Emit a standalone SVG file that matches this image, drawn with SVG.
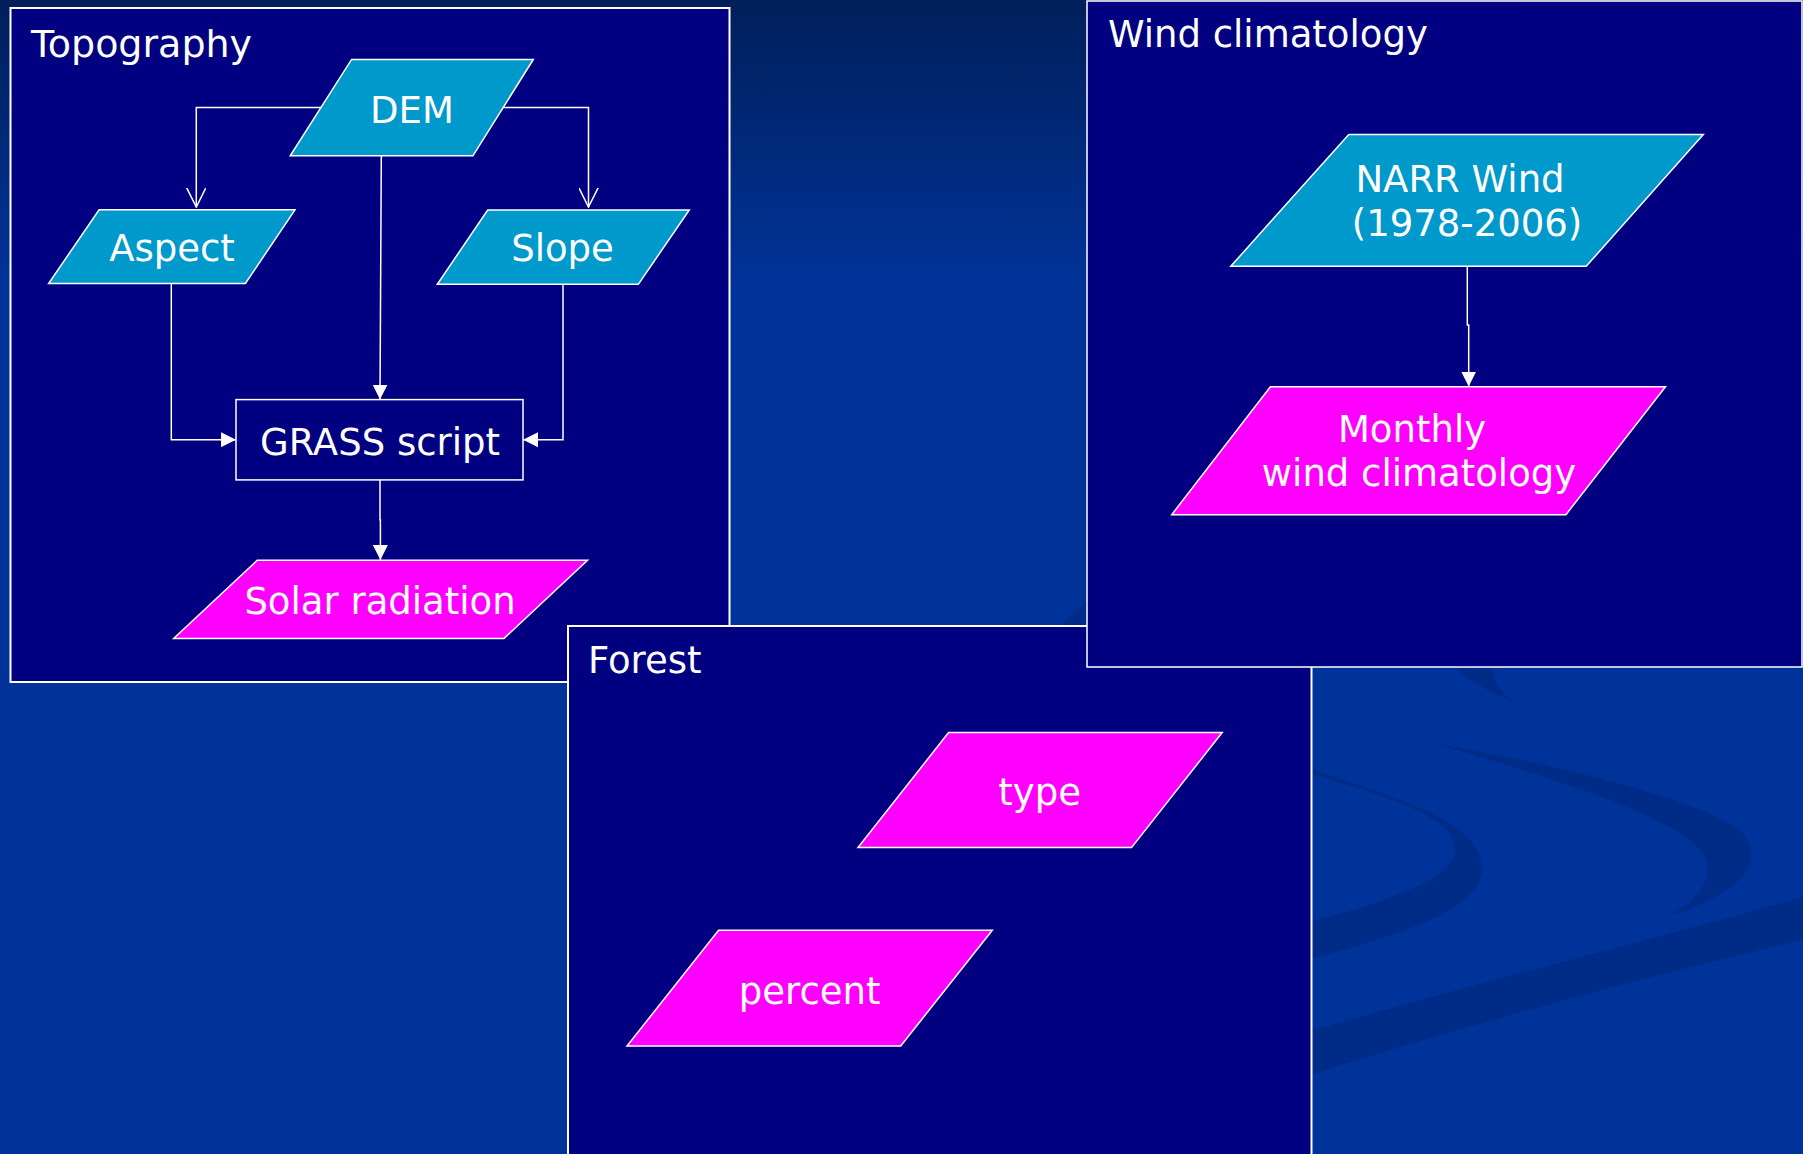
<svg xmlns="http://www.w3.org/2000/svg" width="1803" height="1154" viewBox="0 0 1803 1154">
<defs>
<linearGradient id="bg" x1="0" y1="0" x2="0" y2="1154" gradientUnits="userSpaceOnUse">
<stop offset="0" stop-color="#001f5a"/>
<stop offset="0.25" stop-color="#003399"/>
<stop offset="1" stop-color="#003399"/>
</linearGradient>
<marker id="fill" viewBox="0 0 10 10" markerUnits="userSpaceOnUse" markerWidth="15" markerHeight="15" refX="10" refY="5" orient="auto">
<path d="M0,0 L10,5 L0,10 Z" fill="#ffffff"/>
</marker>
<marker id="open" viewBox="0 0 10 10" markerUnits="userSpaceOnUse" markerWidth="20" markerHeight="20" refX="9.6" refY="5" orient="auto">
<path d="M0,0.2 L9.6,5 L0,9.8" fill="none" stroke="#ffffff" stroke-width="0.75"/>
</marker>
<style>
.box{fill:#000080;stroke:#ffffff;stroke-width:2}
.cy{fill:#0099cc;stroke:#ffffff;stroke-width:1.5}
.mg{fill:#ff00ff;stroke:#ffffff;stroke-width:1.5}
.sw{fill:#002c87}
.t{font-family:"DejaVu Sans",Verdana,"Liberation Sans",sans-serif;font-size:37px;fill:#ffffff}
.c{text-anchor:middle}
.ln{fill:none;stroke:#ffffff;stroke-width:1.5}
</style>
</defs>
<rect x="0" y="0" width="1803" height="1154" fill="url(#bg)"/>
<g id="background-swooshes">
<path class="sw" d="M1300,1034 C1450,990 1650,940 1803,897 L1803,940 C1650,975 1450,1030 1300,1078 Z"/>
<path class="sw" d="M1300,765 C1400,800 1480,820 1482,867 C1484,910 1400,935 1300,962 L1300,925 C1390,900 1455,880 1455,848 C1455,815 1380,795 1300,770 Z"/>
<path class="sw" d="M1433,743 C1560,765 1700,800 1740,830 C1770,860 1740,895 1667,917 C1710,895 1715,865 1700,850 C1670,815 1560,780 1433,743 Z"/>
<path class="sw" d="M1455,668 L1492,668 C1495,688 1505,698 1522,704 C1495,695 1475,685 1455,668 Z"/>
<path class="sw" d="M1060,626 L1088,600 L1088,626 Z"/>
</g>
<g id="topography">
<rect class="box" x="10.5" y="8" width="719" height="674"/>
<text class="t" x="31" y="57" style="font-size:38px">Topography</text>
</g>
<g id="forest">
<rect class="box" x="568" y="626" width="743.5" height="540"/>
<text class="t" x="588" y="673">Forest</text>
</g>
<g id="wind-climatology">
<rect class="box" x="1087" y="1" width="715" height="666" style="stroke-width:1.5"/>
<text class="t" x="1108" y="47">Wind climatology</text>
</g>
<g id="connectors">
<path class="ln" d="M321,107.6 H196.3 V207" marker-end="url(#open)"/>
<path class="ln" d="M503.5,107.6 H588.5 V207" marker-end="url(#open)"/>
<path class="ln" d="M381.3,156 L380,399.6" marker-end="url(#fill)"/>
<path class="ln" d="M171.3,283.5 V439.7 H236" marker-end="url(#fill)"/>
<path class="ln" d="M563,284 V439.7 H523" marker-end="url(#fill)"/>
<path class="ln" d="M380,480 V520 H380.4 V560" marker-end="url(#fill)"/>
<path class="ln" d="M1467.3,266 V325 H1468.7 V386.5" marker-end="url(#fill)"/>
</g>
<g id="dem">
<polygon class="cy" points="351.6,59.4 533.3,59.4 472.9,155.8 290.2,155.8"/>
<text class="t c" x="412" y="123">DEM</text>
</g>
<g id="aspect">
<polygon class="cy" points="99.1,209.8 295,209.8 245.4,283.5 48.6,283.5"/>
<text class="t c" x="172" y="261">Aspect</text>
</g>
<g id="slope">
<polygon class="cy" points="487.7,210 689.3,210 638.3,284.3 437.3,284.3"/>
<text class="t c" x="562.5" y="261">Slope</text>
</g>
<g id="grass-script">
<rect x="236" y="399.6" width="287" height="80.3" fill="none" stroke="#ffffff" stroke-width="1.5"/>
<text class="t c" x="380" y="454.5">GRASS script</text>
</g>
<g id="solar-radiation">
<polygon class="mg" points="257.2,560.3 587.5,560.3 504,638.4 173.7,638.4"/>
<text class="t c" x="380" y="614">Solar radiation</text>
</g>
<g id="narr-wind">
<polygon class="cy" points="1348.8,134.4 1703.3,134.4 1586.2,266.3 1230.8,266.3"/>
<text class="t c" x="1460" y="192">NARR Wind</text>
<text class="t c" x="1467" y="236">(1978-2006)</text>
</g>
<g id="monthly-wind">
<polygon class="mg" points="1270.4,386.8 1665.5,386.8 1565.9,514.7 1171.7,514.7"/>
<text class="t c" x="1412" y="442">Monthly</text>
<text class="t c" x="1419" y="486">wind climatology</text>
</g>
<g id="type">
<polygon class="mg" points="948.6,732.5 1222.2,732.5 1131.5,847.6 858,847.6"/>
<text class="t c" x="1039.6" y="805">type</text>
</g>
<g id="percent">
<polygon class="mg" points="718.6,930.2 992.3,930.2 900.7,1046 627,1046"/>
<text class="t c" x="809.6" y="1004">percent</text>
</g>
</svg>
